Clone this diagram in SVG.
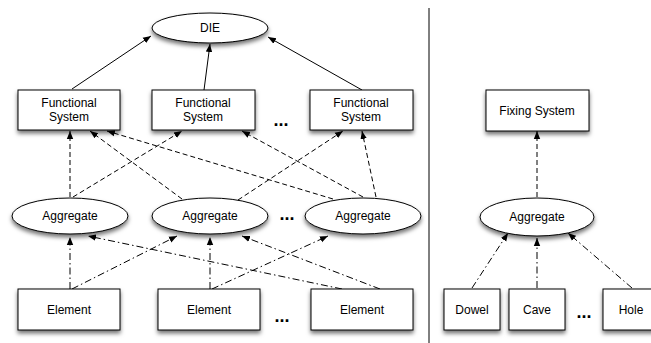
<svg xmlns="http://www.w3.org/2000/svg" width="651" height="343" viewBox="0 0 651 343">
<style>
.n{fill:#fff;stroke:#000;stroke-width:1;filter:url(#sh)}
.t{font-family:"Liberation Sans",Arial,sans-serif;font-size:12px;fill:#000;text-anchor:middle}
.dots{font-family:"Liberation Sans",Arial,sans-serif;font-size:18px;font-weight:bold;fill:#000;text-anchor:middle}
.c{stroke:#000;stroke-width:1;fill:none;marker-end:url(#ah)}
.d{stroke-dasharray:5,3}
.dd{stroke-dasharray:7,3,1.5,3}
</style>
<defs>
<filter id="sh" x="-20%" y="-20%" width="140%" height="160%">
<feDropShadow dx="0" dy="3" stdDeviation="2" flood-color="#000" flood-opacity="0.55"/>
</filter>
<marker id="ah" viewBox="0 0 10 10" refX="10" refY="5" markerWidth="8" markerHeight="8" markerUnits="userSpaceOnUse" orient="auto">
<path d="M0,1 L10,5 L0,9 Z" fill="#000"/>
</marker>
</defs>
<line x1="429" y1="8" x2="429" y2="343" stroke="#000" stroke-width="1"/>
<g id="connectors">
<line class="c" x1="72" y1="89" x2="151" y2="36"/>
<line class="c" x1="204" y1="90" x2="210" y2="44"/>
<line class="c" x1="362" y1="90" x2="268" y2="37"/>
<line class="c d" x1="70" y1="197" x2="70" y2="131"/>
<line class="c d" x1="73" y1="197" x2="182" y2="131"/>
<line class="c d" x1="182" y1="199" x2="90" y2="131"/>
<line class="c d" x1="238" y1="200" x2="343" y2="131"/>
<line class="c d" x1="333" y1="199" x2="107" y2="131"/>
<line class="c d" x1="363" y1="197" x2="242" y2="131"/>
<line class="c d" x1="376" y1="197" x2="362" y2="131"/>
<line class="c dd" x1="70" y1="289" x2="70" y2="237"/>
<line class="c dd" x1="72" y1="289" x2="177" y2="236"/>
<line class="c dd" x1="210" y1="289" x2="210" y2="237"/>
<line class="c dd" x1="212" y1="289" x2="328" y2="236"/>
<line class="c dd" x1="342" y1="289" x2="88" y2="236"/>
<line class="c dd" x1="380" y1="289" x2="242" y2="236"/>
<line class="c d" x1="537" y1="197" x2="537" y2="131"/>
<line class="c dd" x1="472" y1="288" x2="508" y2="233"/>
<line class="c dd" x1="537" y1="288" x2="537" y2="238"/>
<line class="c dd" x1="632" y1="288" x2="568" y2="233"/>
</g>
<g id="die"><ellipse class="n" cx="210" cy="28" rx="58" ry="15"/><text class="t" x="210" y="32">DIE</text></g>
<g id="fs1"><rect class="n" x="18" y="90" width="102" height="40"/><text class="t" x="69" y="107">Functional</text><text class="t" x="69" y="121">System</text></g>
<g id="fs2"><rect class="n" x="152" y="90" width="103" height="40"/><text class="t" x="203" y="107">Functional</text><text class="t" x="203" y="121">System</text></g>
<g id="fs3"><rect class="n" x="310" y="90" width="103" height="40"/><text class="t" x="361" y="107">Functional</text><text class="t" x="361" y="121">System</text></g>
<text class="dots" x="281" y="126">...</text>
<g id="agg1"><ellipse class="n" cx="70" cy="216" rx="58" ry="18"/><text class="t" x="70" y="220">Aggregate</text></g>
<g id="agg2"><ellipse class="n" cx="210" cy="216" rx="58" ry="18"/><text class="t" x="210" y="220">Aggregate</text></g>
<g id="agg3"><ellipse class="n" cx="363" cy="216" rx="58" ry="18"/><text class="t" x="363" y="220">Aggregate</text></g>
<text class="dots" x="287" y="220">...</text>
<g id="el1"><rect class="n" x="18" y="289" width="102" height="41"/><text class="t" x="69" y="314">Element</text></g>
<g id="el2"><rect class="n" x="158" y="289" width="102" height="41"/><text class="t" x="209" y="314">Element</text></g>
<g id="el3"><rect class="n" x="311" y="289" width="102" height="41"/><text class="t" x="362" y="314">Element</text></g>
<text class="dots" x="282" y="322">...</text>
<g id="fix"><rect class="n" x="486" y="90" width="103" height="41"/><text class="t" x="537" y="115">Fixing System</text></g>
<g id="agg4"><ellipse class="n" cx="537" cy="217" rx="57" ry="19"/><text class="t" x="537" y="221">Aggregate</text></g>
<g id="dowel"><rect class="n" x="444" y="289" width="56" height="41"/><text class="t" x="472" y="314">Dowel</text></g>
<g id="cave"><rect class="n" x="509" y="289" width="56" height="41"/><text class="t" x="537" y="314">Cave</text></g>
<g id="hole"><rect class="n" x="603" y="289" width="56" height="41"/><text class="t" x="631" y="314">Hole</text></g>
<text class="dots" x="584" y="318">...</text>
</svg>
